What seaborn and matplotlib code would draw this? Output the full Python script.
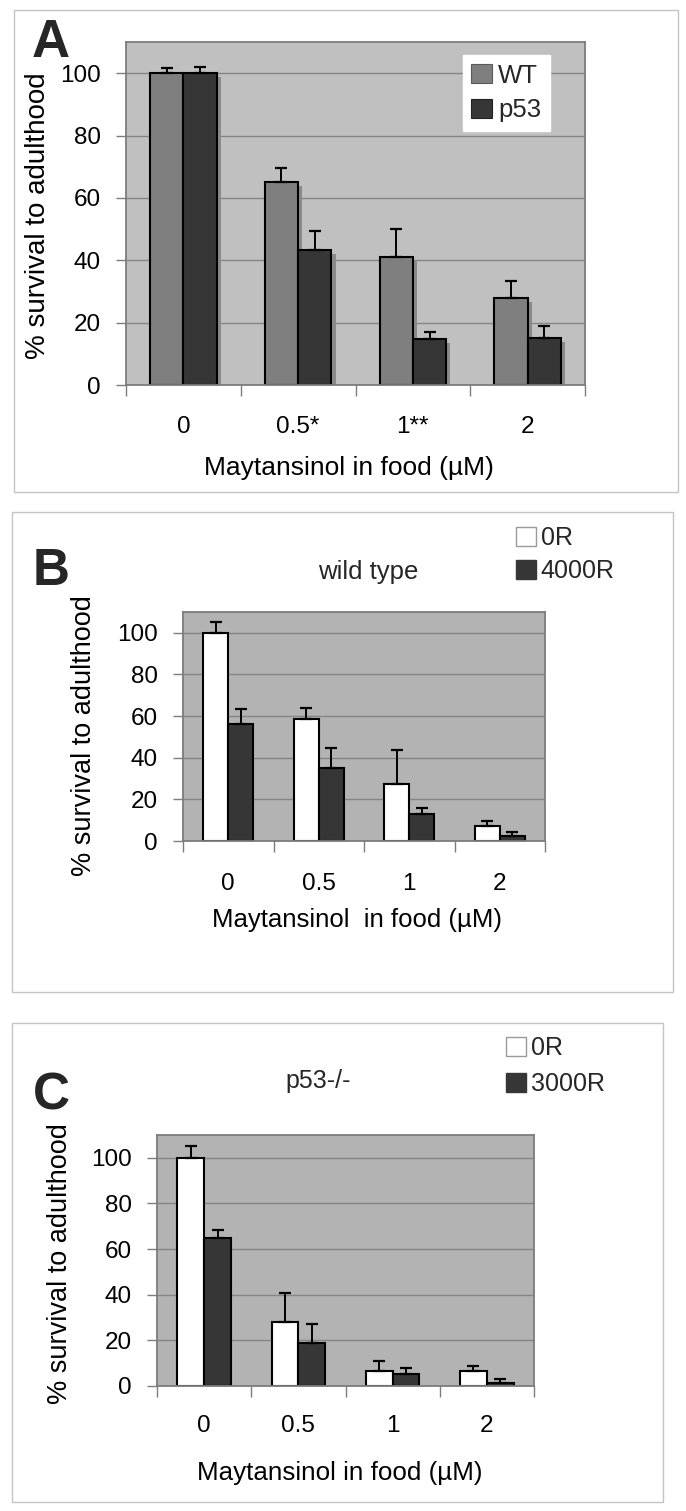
import numpy as np
import pandas as pd
import matplotlib
matplotlib.use("Agg")
import matplotlib.pyplot as plt
import matplotlib.patheffects as pe
from matplotlib.patches import Patch, Rectangle
import seaborn as sns

# ---------------- data ----------------
doses_a = ["0", "0.5*", "1**", "2"]
doses_bc = ["0", "0.5", "1", "2"]

a_groups = ["WT", "p53"]
a_wt = [100, 65, 41, 28]
a_wt_err = [1.6, 4.6, 9.0, 5.3]
a_p53 = [100, 43.3, 14.8, 15]
a_p53_err = [2.0, 6.2, 2.3, 4.0]

b_groups = ["0R", "4000R"]
b_0r = [100, 58.4, 27.6, 7.4]
b_0r_err = [5.0, 5.4, 15.9, 2.4]
b_4000r = [56, 35, 12.9, 2.6]
b_4000r_err = [7.4, 9.6, 3.1, 1.7]

c_groups = ["0R", "3000R"]
c_0r = [100, 28.2, 6.5, 6.6]
c_0r_err = [5.0, 12.4, 4.5, 2.1]
c_3000r = [65, 19, 5.4, 1.5]
c_3000r_err = [3.5, 8.0, 2.6, 1.7]

yticks = [0, 20, 40, 60, 80, 100]
ylabel = "% survival to adulthood"

# ---------------- style ----------------
sns.set_theme(style="white")
plt.rcParams["font.family"] = ["Liberation Sans", "DejaVu Sans"]

W, H = 686, 1511
fig = plt.figure(figsize=(W / 100, H / 100), dpi=100)
fig.patch.set_facecolor("white")


def px_axes(x0, x1, y0, y1):
    return fig.add_axes([x0 / W, 1 - y1 / H, (x1 - x0) / W, (y1 - y0) / H])


def panel_box(x0, y0, x1, y1):
    fig.patches.append(Rectangle((x0 / W, 1 - y1 / H), (x1 - x0) / W, (y1 - y0) / H,
                                 transform=fig.transFigure, fill=False,
                                 edgecolor="#c4c4c4", linewidth=1.0, zorder=0))


def long_df(cats, groups, s1, s2):
    return pd.DataFrame({
        "dose": list(cats) * 2,
        "group": [groups[0]] * len(cats) + [groups[1]] * len(cats),
        "value": list(s1) + list(s2),
    })


def draw_panel(ax, cats, groups, s1, e1, s2, e2, colors, bg, width, tick_fs,
               ylab_fs, xlab, xlab_fs, ylab_xy, xlab_xy, tick_pad, shadow=False):
    df = long_df(cats, groups, s1, s2)
    sns.barplot(data=df, x="dose", y="value", hue="group", order=cats,
                hue_order=groups, palette=dict(zip(groups, colors)),
                errorbar=None, width=width, edgecolor="black", linewidth=1.5,
                saturation=1, legend=False, ax=ax)
    ax.set_facecolor(bg)
    ax.set_ylim(0, 110)
    ax.set_xlim(-0.5, len(cats) - 0.5)
    ax.set_yticks(yticks)
    ax.set_yticklabels([str(t) for t in yticks])
    ax.yaxis.grid(True, color="#858585", linewidth=1.0)
    ax.xaxis.grid(False)
    ax.set_axisbelow(True)
    for s in ax.spines.values():
        s.set_visible(True)
        s.set_color("#7c7c7c")
        s.set_linewidth(1.3)
    ax.tick_params(axis="y", which="major", direction="out", length=7, width=1.0,
                   color="#7c7c7c", labelsize=tick_fs, pad=11, left=True)
    ax.set_xticks(range(len(cats)))
    ax.set_xticklabels(cats)
    ax.set_xticks(np.arange(-0.5, len(cats)), minor=True)
    ax.tick_params(axis="x", which="major", length=0, labelsize=tick_fs, pad=tick_pad)
    ax.tick_params(axis="x", which="minor", direction="out", length=8, width=1.0,
                   color="#7c7c7c", bottom=True)
    if shadow:
        for p in ax.patches:
            p.set_path_effects([pe.SimplePatchShadow(offset=(3, -3),
                                                     shadow_rgbFace="#8a8a8a", alpha=1.0),
                                pe.Normal()])
    for cont, errs in zip(ax.containers, [e1, e2]):
        xs = [p.get_x() + p.get_width() / 2 for p in cont]
        hs = [p.get_height() for p in cont]
        ax.errorbar(xs, hs, yerr=[np.zeros(len(errs)), errs], fmt="none",
                    ecolor="black", elinewidth=1.4, capsize=4.5, capthick=1.6, zorder=6)
    ax.set_ylabel(ylabel, fontsize=ylab_fs, color="black")
    ax.yaxis.set_label_coords(*ylab_xy)
    ax.yaxis.label.set_va("center")
    ax.set_xlabel(xlab, fontsize=xlab_fs, color="black")
    ax.xaxis.set_label_coords(*xlab_xy)
    ax.xaxis.label.set_va("center")
    for lab in ax.get_xticklabels() + ax.get_yticklabels():
        lab.set_color("black")


# ---------------- panel A ----------------
panel_box(14, 10, 678, 492)
axA = px_axes(126, 585, 42, 385)
draw_panel(axA, doses_a, a_groups, a_wt, a_wt_err, a_p53, a_p53_err,
           ["#7f7f7f", "#363636"], "#c0c0c0", 0.58, 17.5, 20,
           "Maytansinol in food (µM)", 19, (-0.192, 0.493), (0.485, -0.242), 22,
           shadow=True)
axA.legend(handles=[Patch(facecolor="#7f7f7f", edgecolor="#5a5a5a", linewidth=0.8, label="WT"),
                    Patch(facecolor="#363636", edgecolor="#222222", linewidth=0.8, label="p53")],
           loc="upper left", bbox_to_anchor=(0.734, 0.962), borderaxespad=0,
           fontsize=18.5, frameon=True, fancybox=False, framealpha=1,
           facecolor="white", edgecolor="white", handlelength=0.8, handleheight=0.8,
           handletextpad=0.25, labelspacing=0.42, borderpad=0.33)
fig.text(32 / W, 1 - 57 / H, "A", fontsize=38, fontweight="bold", ha="left", va="baseline")

# ---------------- panel B ----------------
panel_box(12, 512, 673, 992)
axB = px_axes(183, 545, 612, 841)
draw_panel(axB, doses_bc, b_groups, b_0r, b_0r_err, b_4000r, b_4000r_err,
           ["#ffffff", "#363636"], "#b3b3b3", 0.55, 17.5, 19.5,
           "Maytansinol  in food (µM)", 18.5, (-0.273, 0.459), (0.48, -0.345), 23)
fig.legend(handles=[Patch(facecolor="white", edgecolor="#9a9a9a", linewidth=1.0, label="0R"),
                    Patch(facecolor="#363636", edgecolor="#363636", linewidth=1.0, label="4000R")],
           loc="upper left", bbox_to_anchor=(516 / W, 1 - 526 / H),
           bbox_transform=fig.transFigure, borderaxespad=0, borderpad=0,
           fontsize=18, frameon=False, handlelength=0.78, handleheight=0.78,
           handletextpad=0.2, labelspacing=0.38)
fig.text(368 / W, 1 - 572 / H, "wild type", fontsize=18.5, ha="center", va="center")
fig.text(33 / W, 1 - 585 / H, "B", fontsize=37, fontweight="bold", ha="left", va="baseline")

# ---------------- panel C ----------------
panel_box(12, 1023, 663, 1502)
axC = px_axes(157, 534, 1135, 1386)
draw_panel(axC, doses_bc, c_groups, c_0r, c_0r_err, c_3000r, c_3000r_err,
           ["#ffffff", "#363636"], "#b3b3b3", 0.57, 17.5, 19.5,
           "Maytansinol in food (µM)", 18.7, (-0.257, 0.486), (0.485, -0.347), 21)
fig.legend(handles=[Patch(facecolor="white", edgecolor="#9a9a9a", linewidth=1.0, label="0R"),
                    Patch(facecolor="#363636", edgecolor="#363636", linewidth=1.0, label="3000R")],
           loc="upper left", bbox_to_anchor=(506 / W, 1 - 1036 / H),
           bbox_transform=fig.transFigure, borderaxespad=0, borderpad=0,
           fontsize=18, frameon=False, handlelength=0.78, handleheight=0.78,
           handletextpad=0.2, labelspacing=0.48)
fig.text(318 / W, 1 - 1081 / H, "p53-/-", fontsize=18, ha="center", va="center")
fig.text(33 / W, 1 - 1109 / H, "C", fontsize=37, fontweight="bold", ha="left", va="baseline")

fig.savefig("out.png", dpi=100, facecolor="white")
